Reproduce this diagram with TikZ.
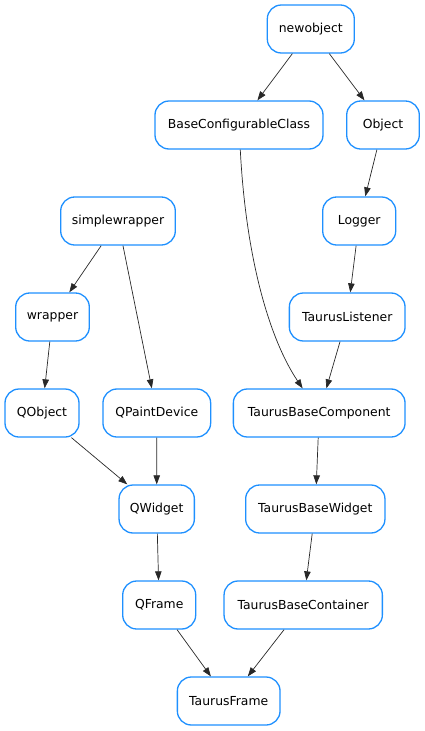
\documentclass[tikz,border=0pt]{standalone}
\usepackage{fontspec}
\setmainfont{DejaVu Sans}
\usetikzlibrary{arrows.meta}
\definecolor{nodeblue}{RGB}{30,144,255}
\definecolor{edgegray}{RGB}{40,40,40}
\begin{document}
\begin{tikzpicture}[x=1pt,y=-1pt,
  cls/.style={draw=nodeblue, line width=1.3pt, rounded corners=14pt, fill=white,
    minimum height=48pt, inner sep=0pt, font=\fontsize{12.4}{14}\selectfont},
  inh/.style={draw=edgegray, line width=0.7pt,
    -{Triangle[length=9pt,width=6.5pt]}}]
\useasboundingbox (0,0) rectangle (425,731);

% classes
\node[cls, minimum width=87pt]    (newobject) at (310.8,29)  {newobject};
\node[cls, minimum width=168pt]   (bcc)       at (239,125)   {BaseConfigurableClass};
\node[cls, minimum width=72.6pt]  (object)    at (383,125)   {Object};
\node[cls, minimum width=114.6pt] (swrap)     at (118,221)   {simplewrapper};
\node[cls, minimum width=73pt]    (logger)    at (359.2,221) {Logger};
\node[cls, minimum width=73.6pt]  (wrapper)   at (52.5,317)  {wrapper};
\node[cls, minimum width=115.7pt] (tlist)     at (347.2,317) {TaurusListener};
\node[cls, minimum width=74pt]    (qobject)   at (42,413)    {QObject};
\node[cls, minimum width=107.7pt] (qpaint)    at (156.8,413) {QPaintDevice};
\node[cls, minimum width=171.7pt] (tbcomp)    at (319.2,413) {TaurusBaseComponent};
\node[cls, minimum width=75.3pt]  (qwidget)   at (156.7,509) {QWidget};
\node[cls, minimum width=139.3pt] (tbwidget)  at (315.3,509) {TaurusBaseWidget};
\node[cls, minimum width=73pt]    (qframe)    at (159.2,605) {QFrame};
\node[cls, minimum width=158.3pt] (tbcont)    at (303.2,605) {TaurusBaseContainer};
\node[cls, minimum width=102.7pt] (tframe)    at (228.7,701) {TaurusFrame};

% inheritance edges
\draw[inh] (newobject) -- (bcc);
\draw[inh] (newobject) -- (object);
\draw[inh] (object) -- (logger);
\draw[inh] (logger) -- (tlist);
\draw[inh] (swrap) -- (wrapper);
\draw[inh] (swrap) -- (qpaint);
\draw[inh] (wrapper) -- (qobject);
\draw[inh] (bcc) .. controls (246,260) and (270,340) .. (tbcomp);
\draw[inh] (tlist) -- (tbcomp);
\draw[inh] (qobject) -- (qwidget);
\draw[inh] (qpaint) -- (qwidget);
\draw[inh] (tbcomp) -- (tbwidget);
\draw[inh] (qwidget) -- (qframe);
\draw[inh] (tbwidget) -- (tbcont);
\draw[inh] (qframe) -- (tframe);
\draw[inh] (tbcont) -- (tframe);
\end{tikzpicture}
\end{document}
